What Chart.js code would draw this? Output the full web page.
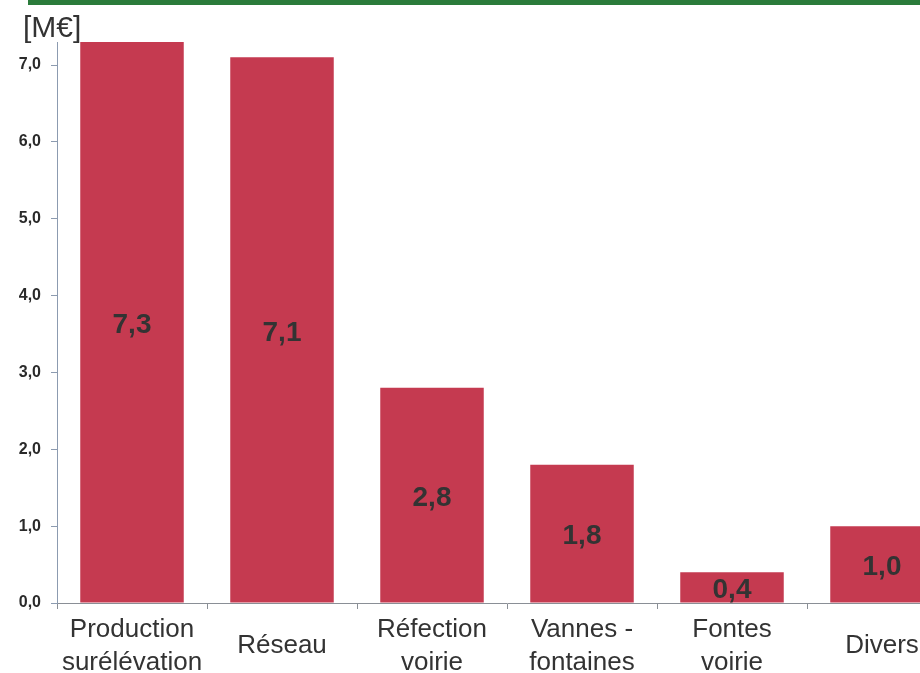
<!DOCTYPE html>
<html>
<head>
<meta charset="utf-8">
<script src="https://cdn.jsdelivr.net/npm/chart.js@4/dist/chart.umd.min.js"></script>
<style>
  html, body { margin: 0; padding: 0; background: #fff; overflow: hidden; }
  #wrap { position: relative; width: 960px; height: 673px; }
</style>
</head>
<body>
<div id="wrap"><canvas id="myChart"></canvas></div>
<script>
// Investment per work item, in millions of euros
const categories = [
    ['Production', 'surélévation'],
    'Réseau',
    ['Réfection', 'voirie'],
    ['Vannes -', 'fontaines'],
    ['Fontes', 'voirie'],
    'Divers'
];
const amounts = [7.3, 7.1, 2.8, 1.8, 0.4, 1.0];
const yTicks = [0, 1, 2, 3, 4, 5, 6, 7];
const unitLabel = '[M€]';

const fontFamily = "'Liberation Sans', Arial, sans-serif";
const fmt = v => v.toFixed(1).replace('.', ',');

// green rule across the top and the unit label
const decorPlugin = {
    id: 'decor',
    beforeDraw(chart) {
        const c = chart.ctx;
        c.save();
        c.fillStyle = '#2b7b3b';
        c.fillRect(28, 0, chart.width, 5);
        c.fillStyle = '#333';
        c.font = '30px ' + fontFamily;
        c.textAlign = 'left';
        c.textBaseline = 'alphabetic';
        c.fillText(unitLabel, 23, 37);
        c.restore();
    }
};

// value printed in the middle of each bar
const valuePlugin = {
    id: 'values',
    afterDatasetsDraw(chart) {
        const c = chart.ctx;
        const meta = chart.getDatasetMeta(0);
        c.save();
        c.fillStyle = '#333';
        c.font = 'bold 28px ' + fontFamily;
        c.textAlign = 'center';
        c.textBaseline = 'middle';
        meta.data.forEach((bar, i) => {
            const p = bar.getProps(['x', 'y', 'base'], true);
            c.fillText(fmt(amounts[i]), p.x, (p.y + p.base) / 2 + 3);
        });
        c.restore();
    }
};

let canvas = document.getElementById('myChart');
canvas.width = 960;
canvas.height = 673;

let ctx = canvas.getContext('2d');
let myChart = new Chart(ctx, {
    type: 'bar',
    data: {
        labels: categories,
        datasets: [{
            data: amounts,
            backgroundColor: 'rgb(197,58,80)',
            borderWidth: 0,
            categoryPercentage: 1,
            barPercentage: 0.69
        }]
    },
    options: {
        responsive: false,
        animation: false,
        layout: { padding: { top: 42, right: 3, left: 0, bottom: 0 } },
        scales: {
            x: {
                grid: { drawOnChartArea: false, tickLength: 6, color: '#8a8f96' },
                border: { color: '#8a8f96' },
                ticks: {
                    color: '#333',
                    padding: 21,
                    crossAlign: 'center',
                    maxRotation: 0,
                    autoSkip: false,
                    font: { family: fontFamily, size: 26, lineHeight: 1.25 }
                },
                afterFit(scale) { scale.height = 70; }
            },
            y: {
                min: 0,
                max: 7.3,
                grid: { drawOnChartArea: false, tickLength: 6, color: '#8c9bb0' },
                border: { color: '#8c9bb0' },
                ticks: {
                    color: '#2a2a2a',
                    padding: 10,
                    font: { family: fontFamily, size: 16, weight: 'bold' },
                    callback: v => fmt(v)
                },
                afterBuildTicks(scale) { scale.ticks = yTicks.map(v => ({ value: v })); },
                afterFit(scale) { scale.width = 57; }
            }
        },
        plugins: {
            legend: { display: false },
            tooltip: { enabled: false }
        }
    },
    plugins: [decorPlugin, valuePlugin]
});
</script>
</body>
</html>
